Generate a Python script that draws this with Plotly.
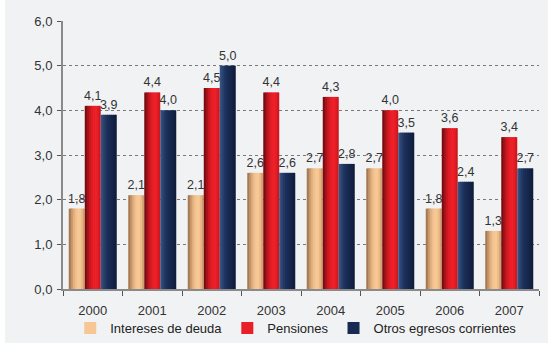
import plotly.graph_objects as go

years = ["2000", "2001", "2002", "2003", "2004", "2005", "2006", "2007"]
intereses = [1.8, 2.1, 2.1, 2.6, 2.7, 2.7, 1.8, 1.3]
pensiones = [4.1, 4.4, 4.5, 4.4, 4.3, 4.0, 3.6, 3.4]
otros = [3.9, 4.0, 5.0, 2.6, 2.8, 3.5, 2.4, 2.7]
names = ["Intereses de deuda", "Pensiones", "Otros egresos corrientes"]

# left-to-right shading of each bar (cylinder look)
shades = [
    ["#a57a52", "#c6956a", "#dfae7e", "#efbe8b", "#f6c794", "#f7c895", "#ecba87", "#cfa072"],
    ["#7a0c11", "#a01319", "#c4171f", "#dc1b24", "#ea1e27", "#ee2029", "#e41d26", "#cc1920"],
    ["#34507e", "#2a426f", "#203762", "#1b2e58", "#182a51", "#16264b", "#132244", "#101d3c"],
]
legend_color_idx = 4

FONT = "Liberation Sans, Arial, sans-serif"
BAR_W = 0.269          # bar width in category units
GROUP_START = -0.4035  # left edge of first bar relative to category centre
N = 8

fig = go.Figure()
for s, (name, vals, cols) in enumerate(zip(names, [intereses, pensiones, otros], shades)):
    left = GROUP_START + s * BAR_W
    sw = BAR_W / N
    for k, col in enumerate(cols):
        w = sw * 1.6 if k < N - 1 else sw
        fig.add_trace(go.Bar(
            x=years, y=vals, name=name,
            marker=dict(color=col, line=dict(width=0)),
            width=w, offset=left + k * sw,
            showlegend=(k == legend_color_idx), legendrank=s + 1,
            hoverinfo="skip",
        ))
    # text carrier (transparent) spanning the full bar
    fig.add_trace(go.Bar(
        x=years, y=vals, name=name, showlegend=False,
        marker=dict(color="rgba(0,0,0,0)", line=dict(width=0)),
        width=BAR_W, offset=left,
        texttemplate="%{y:.1f}", textposition="outside",
        constraintext="none",
        textfont=dict(size=12.5, color="#333333", family=FONT),
        cliponaxis=False,
    ))

fig.update_layout(
    width=543, height=343,
    barmode="overlay",
    separators=",.",
    paper_bgcolor="#f1f2f4", plot_bgcolor="#f1f2f4",
    margin=dict(l=58, r=9, t=21, b=54, autoexpand=False),
    font=dict(family=FONT, size=13, color="#333333"),
    showlegend=True,
    legend=dict(orientation="h", x=0.49, xanchor="center",
                yref="container", y=0.0, yanchor="bottom",
                font=dict(size=13, color="#222222", family=FONT), itemwidth=30,
                traceorder="normal", bgcolor="rgba(0,0,0,0)"),
)
fig.update_xaxes(
    automargin=False,
    showline=True, linecolor="#8a8a8a", linewidth=2,
    ticks="outside", tickson="boundaries", ticklen=5, tickcolor="#555555",
    ticklabelstandoff=8,
    tickfont=dict(size=13, color="#333333", family=FONT), showgrid=False,
)
fig.update_yaxes(
    automargin=False,
    range=[0, 6], dtick=1, tickformat=".1f",
    showline=True, linecolor="#8a8a8a", linewidth=2,
    ticks="outside", ticklen=4, tickcolor="#555555",
    ticklabelstandoff=2,
    tickfont=dict(size=13, color="#333333", family=FONT),
    showgrid=True, gridcolor="#7a7a7a", griddash="3px,3px", gridwidth=1,
    zeroline=False,
)
fig.write_html(
    "out.html",
    post_script="document.body.style.margin='0 0 0 5px';document.body.style.background='#ffffff';",
)
